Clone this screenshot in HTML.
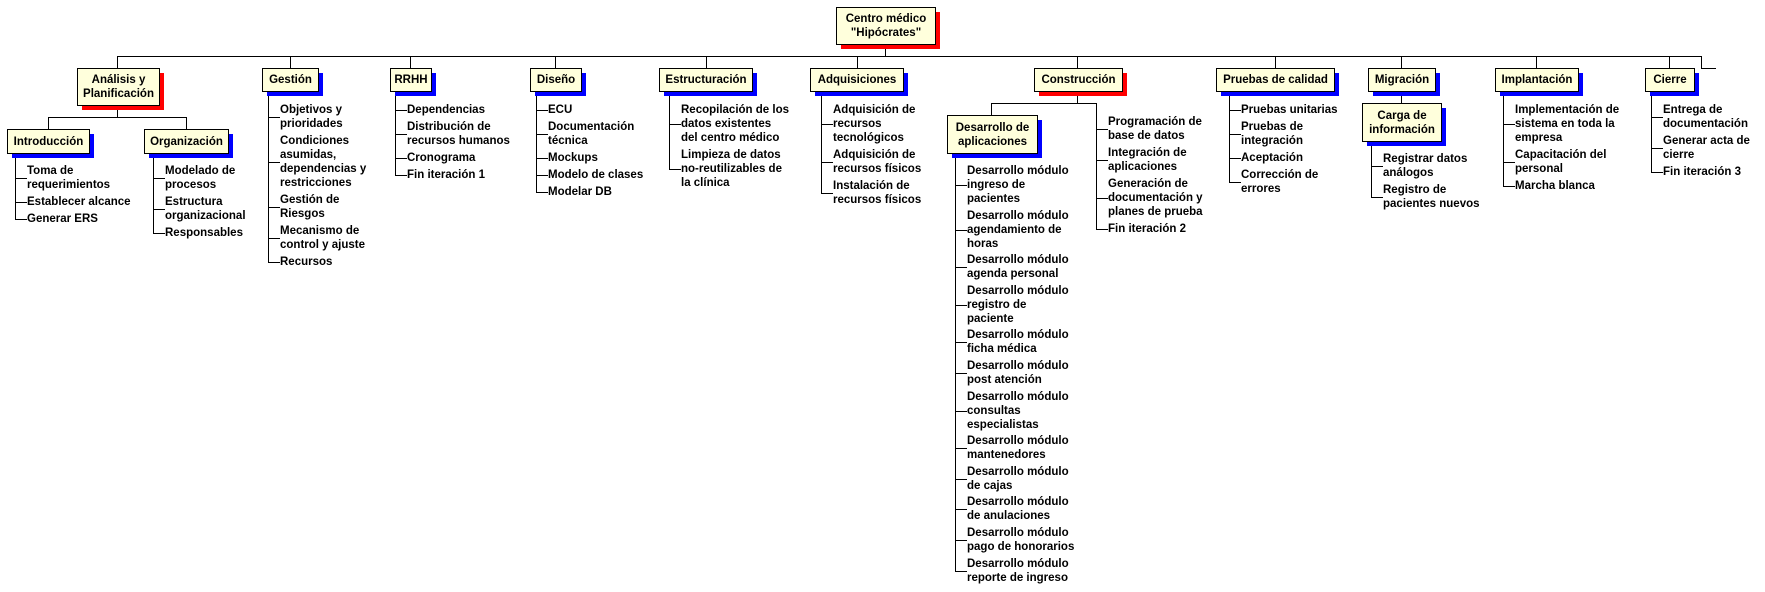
<!DOCTYPE html>
<html><head><meta charset="utf-8"><style>
html,body{margin:0;padding:0;background:#fff;}
body{width:1765px;height:592px;position:relative;overflow:hidden;font-family:"Liberation Sans",Arial,sans-serif;font-weight:bold;font-size:11.5px;color:#000;}
.b{position:absolute;box-sizing:border-box;background:#ffffdc;border:1.5px solid #000;text-align:center;line-height:14px;display:flex;align-items:center;justify-content:center;z-index:2;}
.s{position:absolute;z-index:1;}
.l{position:absolute;background:#000;}
.t{position:absolute;line-height:14px;white-space:nowrap;}
</style></head><body>
<script>
function L(x,y,w,h){var d=document.createElement('div');d.className='l';d.style.cssText='left:'+x+'px;top:'+y+'px;width:'+w+'px;height:'+h+'px';document.body.appendChild(d);}
function B(x1,y1,x2,y2,txt,c){var s=document.createElement('div');s.className='s';s.style.cssText='left:'+(x1+5)+'px;top:'+(y1+5)+'px;width:'+(x2-x1)+'px;height:'+(y2-y1)+'px;background:'+(c=='r'?'#ff0000':'#0000ff');document.body.appendChild(s);
var d=document.createElement('div');d.className='b';d.style.cssText='left:'+x1+'px;top:'+y1+'px;width:'+(x2-x1+1)+'px;height:'+(y2-y1+1)+'px';d.innerHTML=txt;document.body.appendChild(d);}
function I(vx,y0,top,items,gap){gap=gap||3;var y=top,last=y0;items.forEach(function(it){var n=it.split('|').length;var t=document.createElement('div');t.className='t';t.style.cssText='left:'+(vx+12)+'px;top:'+y+'px';t.innerHTML=it.split('|').join('<br>');document.body.appendChild(t);var c=Math.round(y+n*7);L(vx,c,12,1);last=c;y+=n*14+gap;});L(vx,y0,1,last-y0+1);}
// root
B(836,7,935,44,'Centro médico<br>"Hipócrates"','r');
L(885,44,1,12);L(117,56,1585,1);
[117,290,410,555,706,857,1077,1275,1401,1536,1669,1701].forEach(function(x){L(x,56,1,12);});
L(1701,68,15,1);
B(77,68,159,105,'Análisis y<br>Planificación','r');
B(262,68,318,91,'Gestión');
B(390,68,431,91,'RRHH');
B(530,68,581,91,'Diseño');
B(659,68,752,91,'Estructuración');
B(810,68,903,91,'Adquisiciones');
B(1034,68,1122,91,'Construcción','r');
B(1216,68,1334,91,'Pruebas de calidad');
B(1368,68,1435,91,'Migración');
B(1495,68,1578,91,'Implantación');
B(1645,68,1694,91,'Cierre');
// Analisis
L(117,105,1,12);L(48,117,139,1);L(48,117,1,12);L(186,117,1,12);
B(7,129,89,153,'Introducción');B(144,129,228,153,'Organización');
I(15,153,164,['Toma de|requerimientos','Establecer alcance','Generar ERS']);
I(153,153,164,['Modelado de|procesos','Estructura|organizacional','Responsables']);
I(268,91,103,['Objetivos y|prioridades','Condiciones|asumidas,|dependencias y|restricciones','Gestión de|Riesgos','Mecanismo de|control y ajuste','Recursos']);
I(395,91,103,['Dependencias','Distribución de|recursos humanos','Cronograma','Fin iteración 1']);
I(536,91,103,['ECU','Documentación|técnica','Mockups','Modelo de clases','Modelar DB']);
I(669,91,103,['Recopilación de los|datos existentes|del centro médico','Limpieza de datos|no-reutilizables de|la clínica']);
I(821,91,103,['Adquisición de|recursos|tecnológicos','Adquisición de|recursos físicos','Instalación de|recursos físicos']);
// Construccion
L(1077,91,1,12);L(991,103,106,1);L(991,103,1,12);
B(947,115,1037,153,'Desarrollo de<br>aplicaciones');
I(1096,103,115,['Programación de|base de datos','Integración de|aplicaciones','Generación de|documentación y|planes de prueba','Fin iteración 2']);
I(955,153,164,['Desarrollo módulo|ingreso de|pacientes','Desarrollo módulo|agendamiento de|horas','Desarrollo módulo|agenda personal','Desarrollo módulo|registro de|paciente','Desarrollo módulo|ficha médica','Desarrollo módulo|post atención','Desarrollo módulo|consultas|especialistas','Desarrollo módulo|mantenedores','Desarrollo módulo|de cajas','Desarrollo módulo|de anulaciones','Desarrollo módulo|pago de honorarios','Desarrollo módulo|reporte de ingreso'],2.6);
I(1229,91,103,['Pruebas unitarias','Pruebas de|integración','Aceptación','Corrección de|errores']);
L(1401,91,1,12);
B(1362,103,1441,141,'Carga de<br>información');
I(1371,141,152,['Registrar datos|análogos','Registro de|pacientes nuevos']);
I(1503,91,103,['Implementación de|sistema en toda la|empresa','Capacitación del|personal','Marcha blanca']);
I(1651,91,103,['Entrega de|documentación','Generar acta de|cierre','Fin iteración 3']);
</script>
</body></html>
